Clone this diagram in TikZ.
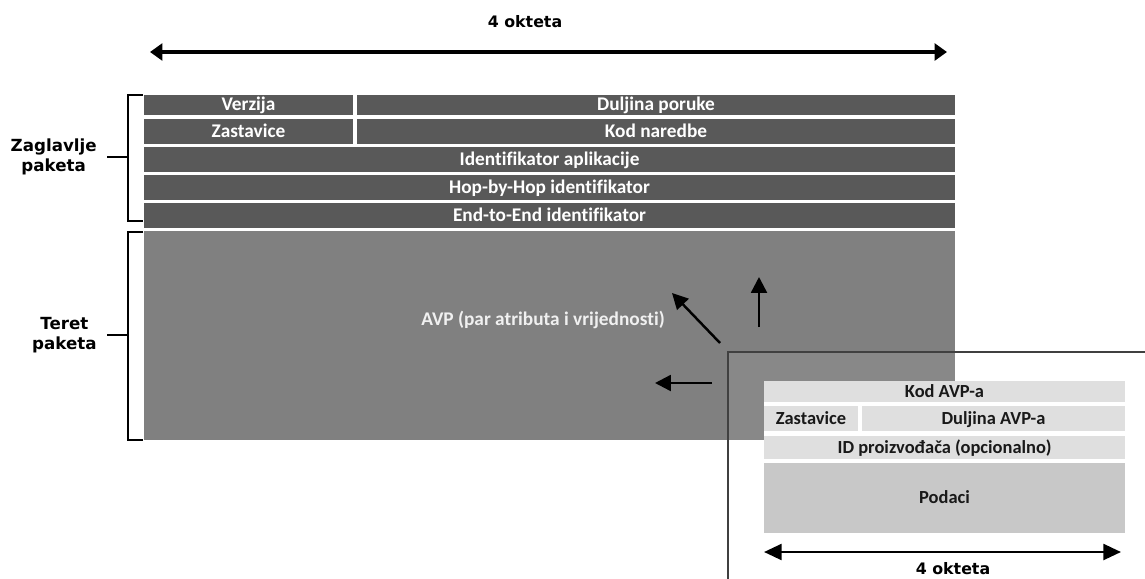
\documentclass[tikz,border=0pt]{standalone}
\usepackage{fontspec}
\setmainfont{Carlito}[Ligatures=NoCommon]
\newfontfamily\dejavu{DejaVu Sans}
\usetikzlibrary{arrows.meta,positioning,fit}
\definecolor{hdrgray}{HTML}{595959}
\definecolor{paygray}{HTML}{808080}
\definecolor{ovlgray}{HTML}{888888}
\definecolor{avplight}{HTML}{DFDFDF}
\definecolor{avpdata}{HTML}{C8C8C8}

\begin{document}
\begin{tikzpicture}[x=0.02cm, y=-0.02cm]
  \tikzstyle{row}=[inner sep=0pt]
  \tikzstyle{hdr}=[row, fill=hdrgray]
  \tikzstyle{avp}=[row, fill=avplight]
  \tikzstyle{htxt}=[inner sep=0pt, text=white, font=\bfseries\fontsize{11}{13}\selectfont, text height=1.7ex, text depth=0.3ex]
  \tikzstyle{atxt}=[inner sep=0pt, text=black!90, font=\bfseries\fontsize{10.5}{12}\selectfont, text height=1.7ex, text depth=0.3ex]
  \tikzstyle{side}=[font=\dejavu\bfseries\fontsize{9.5}{11.5}\selectfont, align=center, inner sep=0.2cm]
  \tikzstyle{okt}=[font=\dejavu\bfseries\fontsize{9}{11}\selectfont, inner sep=0pt]
  \tikzstyle{brk}=[line width=1.1pt]
  \tikzstyle{dim}=[line width=1.8pt, {Triangle[length=7pt,width=9.5pt]}-{Triangle[length=7pt,width=9.5pt]}]
  \tikzstyle{dimb}=[line width=1.5pt, {Triangle[length=10pt,width=9pt]}-{Triangle[length=10pt,width=9pt]}]
  \tikzstyle{ptr}=[line width=1.4pt, -{Triangle[length=9pt,width=9pt]}]

  \useasboundingbox (0,0) rectangle (1145,578);

  % Sirina zaglavlja
  \coordinate (dimL) at (150,52);
  \coordinate (dimR) at (947,52);
  \draw[dim] (dimL) -- (dimR);
  \node[okt] (okt) at (525,22) {4 okteta};

  % Zaglavlje paketa
  \node[hdr, fit={(144,95) (353,115)}, label={[htxt]center:Verzija}] (ver) {};
  \node[hdr, fit={(357,95) (955,115)}, label={[htxt]center:Duljina poruke}] (dul) {};
  \node[hdr, fit={(144,119) (353,144)}, label={[htxt]center:Zastavice}] (zas) {};
  \node[hdr, fit={(357,119) (955,144)}, label={[htxt]center:Kod naredbe}] (kod) {};
  \node[hdr, fit={(144,147) (955,172)}, label={[htxt]center:Identifikator aplikacije}] (ida) {};
  \node[hdr, fit={(144,175) (955,200)}, label={[htxt]center:Hop-by-Hop identifikator}] (hbh) {};
  \node[hdr, fit={(144,203) (955,228)}, label={[htxt]center:End-to-End identifikator}] (e2e) {};

  % Teret paketa
  \node[row, fill=paygray, fit={(144,231) (955,440)}] (pay) {};
  \node[htxt, text=white!94!black] (avptxt) at (543,320) {AVP (par atributa i vrijednosti)};
  \fill[ovlgray] (728,352) rectangle (955,440);

  % Zagrade
  \node[side, anchor=east] (zag) at (107,157) {Zaglavlje\\paketa};
  \node[side, anchor=east] (ter) at (107,335) {Teret\\paketa};
  \coordinate (zagB) at (128,157);
  \coordinate (terB) at (128,335);
  \draw[brk] (143,95) -| (zagB) |- (143,221);
  \draw[brk] (143,232) -| (terB) |- (143,440);
  \draw[brk] (zag.east) -- (zagB);
  \draw[brk] (ter.east) -- (terB);

  % Uvecani AVP
  \node[draw=black!75, line width=0.6pt, inner sep=0pt, fit={(728,352) (1160,600)}] (avpbox) {};
  \fill[white] (764,381) rectangle (1125,533);
  \node[avp, fit={(764,381) (1125,402)}, label={[atxt]center:Kod AVP-a}] (kavp) {};
  \node[avp, fit={(764,406) (858,431)}, label={[atxt]center:Zastavice}] (zavp) {};
  \node[avp, fit={(862,406) (1125,431)}, label={[atxt]center:Duljina AVP-a}] (lavp) {};
  \node[avp, fit={(764,436) (1125,459)}, label={[atxt]center:ID proizvođača (opcionalno)}] (idp) {};
  \node[avp, fill=avpdata, fit={(764,463) (1125,533)}, label={[atxt]center:Podaci}] (pod) {};

  % Strelice prema AVP-u
  \coordinate (p1s) at (720,343);
  \coordinate (p1e) at (672,293);
  \coordinate (p2s) at (759,327);
  \coordinate (p2e) at (759,277);
  \coordinate (p3s) at (712,383);
  \coordinate (p3e) at (655,383);
  \draw[ptr] (p1s) -- (p1e);
  \draw[ptr] (p2s) -- (p2e);
  \draw[ptr] (p3s) -- (p3e);

  % Sirina AVP-a
  \coordinate (avpL) at (764,552);
  \coordinate (avpR) at (1121,552);
  \draw[dimb] (avpL) -- (avpR);
  \node[okt] (okt2) at (953,569) {4 okteta};
\end{tikzpicture}
\end{document}
